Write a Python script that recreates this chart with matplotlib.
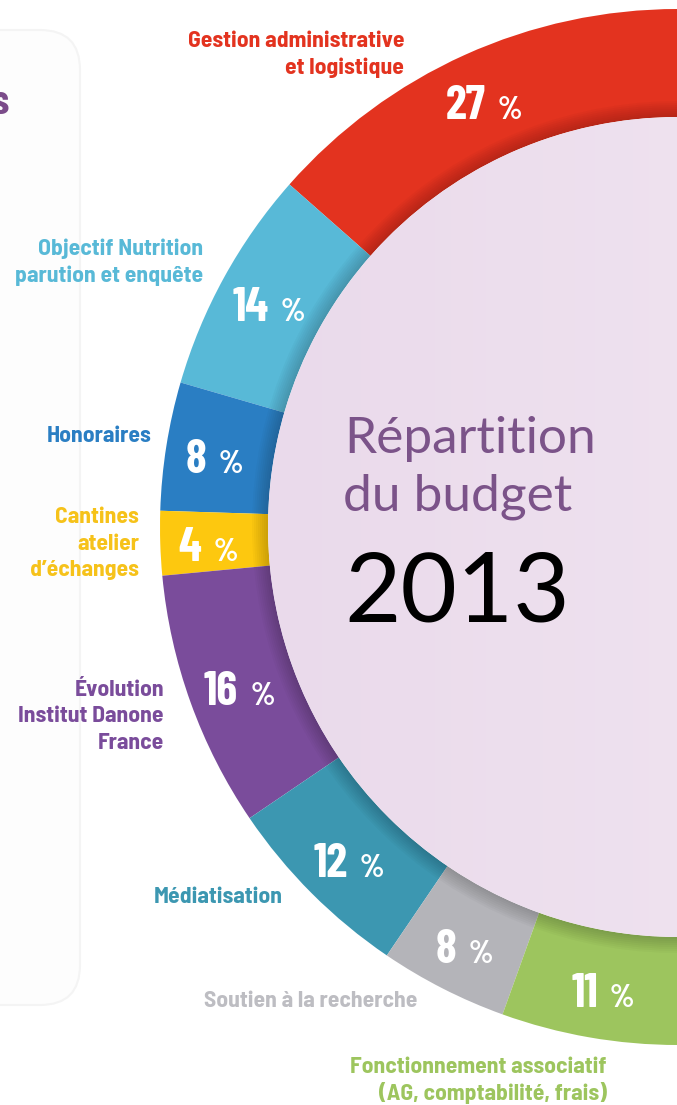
import numpy as np
import matplotlib
matplotlib.use('Agg')
import matplotlib.pyplot as plt
from matplotlib.patches import Circle, Wedge, FancyBboxPatch
from matplotlib.colors import LinearSegmentedColormap

# budget shares (%) - drawn as a half donut, 100 % = 180 degrees
categories = ['Gestion administrative\net logistique',
              'Objectif Nutrition\nparution et enquête',
              'Honoraires',
              'Cantines\natelier\nd\u2019échanges',
              'Évolution\nInstitut Danone\nFrance',
              'Médiatisation',
              'Soutien à la recherche',
              'Fonctionnement associatif\n(AG, comptabilité, frais)']
shares = [27, 14, 8, 4, 16, 12, 8, 11]
colors = ['#E3331F', '#58B9D7', '#2A7EC3', '#FDC80F',
          '#7A4C9B', '#3C97B1', '#B4B4B9', '#9DC55E']
label_colors = ['#E3331F', '#58B9D7', '#2A7EC3', '#F6C21A',
                '#7A4C9B', '#3C97B1', '#BDBDC2', '#9DC55E']
# label anchors (right edge x, first baseline y), pixel coords from top-left
label_pos = [(404, 47), (203, 255), (151, 442), (139, 523),
             (164, 696), (283, 903), (417, 1007), (607, 1073)]
LINE_H = 26.5

W, H = 677, 1105
CX, CY = 678, H - 527
R_OUT, R_IN = 518, 410

LABEL_FONT = ['Barlow Semi Condensed', 'DejaVu Sans']
NUM_FONT = ['Barlow Condensed', 'DejaVu Sans']
TITLE_FONT = ['Lato', 'DejaVu Sans']

fig = plt.figure(figsize=(W / 100, H / 100), dpi=100)
ax = fig.add_axes([0, 0, 1, 1])

# faint panel on the left
panel = FancyBboxPatch((-60, H - 1005), 140, 975, boxstyle='round,pad=0,rounding_size=40',
                       fc='#FDFDFD', ec='#F4F4F4', lw=1.5, zorder=0)
ax.add_patch(panel)
ax.text(9, H - 114, 's', ha='right', va='baseline', fontsize=30, fontweight='bold',
        color='#7B4C8A', family=NUM_FONT)

wedges, _ = ax.pie(shares + [100], colors=colors + ['none'], startangle=90,
                   counterclock=True, radius=R_OUT, center=(CX, CY),
                   wedgeprops=dict(width=R_OUT - R_IN, linewidth=0), frame=True)
wedges[-1].set_visible(False)

# soft shadow along the inner edge of the ring
for k in range(8):
    ax.add_patch(Wedge((CX, CY), R_IN + 2 + k * 2, 85, 275, width=2 + k * 2,
                       fc='black', ec='none', alpha=0.025, zorder=3))

# inner disc with a light gradient
disc = Circle((CX, CY), R_IN, fc='none', ec='none')
ax.add_patch(disc)
grad = np.linspace(0, 1, 256).reshape(1, -1)
cmap = LinearSegmentedColormap.from_list('pink', ['#EADAEB', '#F3E9F3'])
im = ax.imshow(grad, cmap=cmap, extent=(CX - R_IN, CX + R_IN, CY - R_IN, CY + R_IN),
               aspect='auto', zorder=4)
im.set_clip_path(disc)

# percentage labels at the middle of each wedge
start = 90.0
r_lab = 468
for s in shares:
    mid = np.radians(start + s * 0.9)
    start += s * 1.8
    x = CX + r_lab * np.cos(mid)
    y = CY + r_lab * np.sin(mid) - 19
    num = str(s)
    wn = 19 * len(num)
    right = x + (wn - 12 - 25) / 2
    ax.text(right, y, num, ha='right', va='baseline', fontsize=34, fontweight='bold',
            color='white', family=NUM_FONT, zorder=6)
    ax.text(right + 12, y, '%', ha='left', va='baseline', fontsize=23,
            fontweight='bold', color='white', family=NUM_FONT, zorder=6)

# category labels, one text per line
for name, (lx, ly), c in zip(categories, label_pos, label_colors):
    for i, line in enumerate(name.split('\n')):
        ax.text(lx, H - ly - i * LINE_H, line, ha='right', va='baseline', fontsize=17,
                fontweight='bold', color=c, family=LABEL_FONT, zorder=6)

# title in the centre
ax.text(470, H - 453, 'Répartition', ha='center', va='baseline', fontsize=37,
        color='#7B5389', family=TITLE_FONT, zorder=6)
ax.text(458, H - 510, 'du budget', ha='center', va='baseline', fontsize=37,
        color='#7B5389', family=TITLE_FONT, zorder=6)
ax.text(457, H - 622, '2013', ha='center', va='baseline', fontsize=70,
        color='black', family=TITLE_FONT, zorder=6)

ax.set_xlim(0, W)
ax.set_ylim(0, H)
ax.set_aspect('equal')
ax.axis('off')

fig.savefig('out.png', dpi=100, facecolor='white')
